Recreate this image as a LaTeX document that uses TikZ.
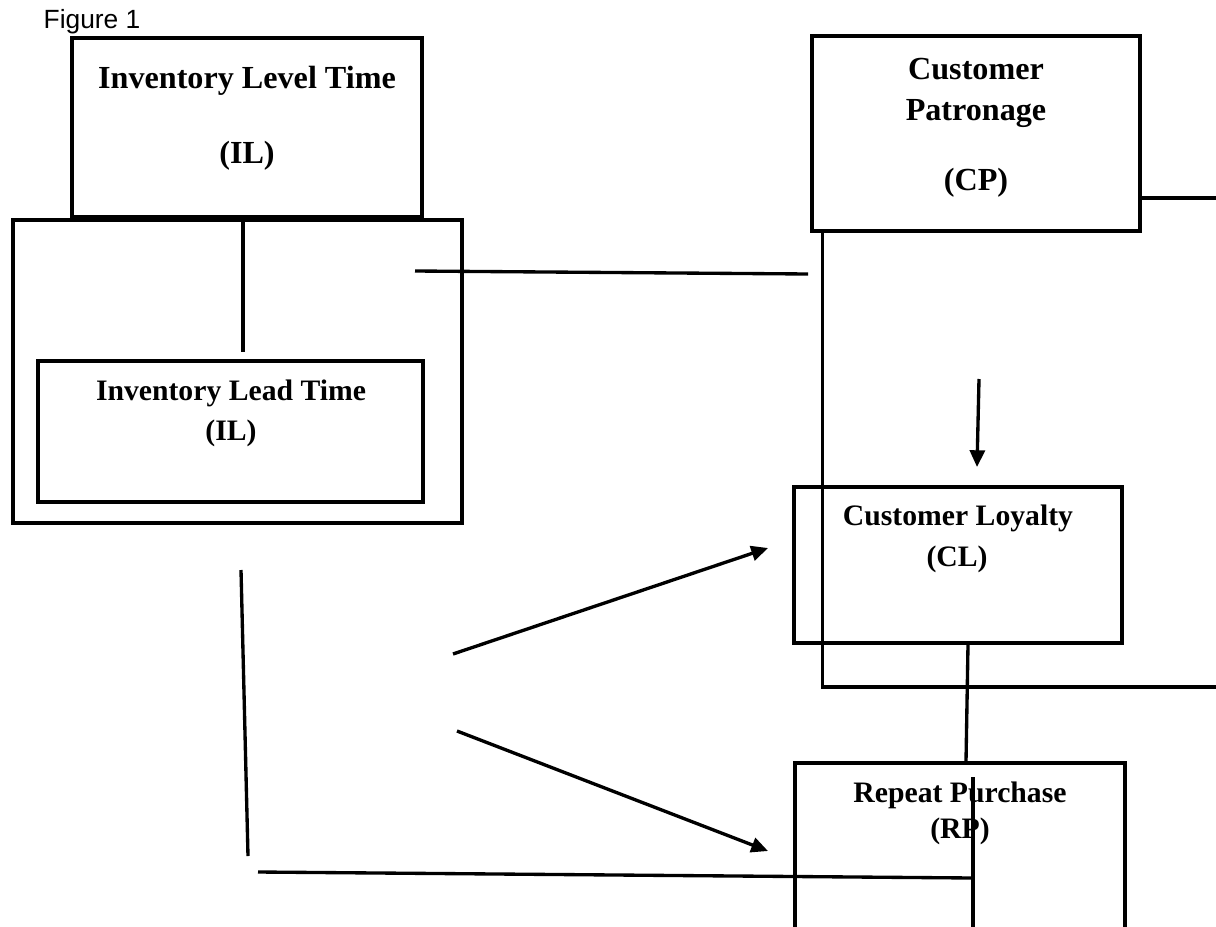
\documentclass[tikz,border=0pt]{standalone}
\usepackage{fontspec}
\setmainfont{Liberation Serif}
\newfontfamily\captionfont{Liberation Sans}
\usetikzlibrary{arrows.meta}
\usetikzlibrary{calc}

\begin{document}
\begin{tikzpicture}[x=0.02cm, y=-0.02cm,
    line width=1.9pt,
    box/.style={draw, shape=rectangle, inner sep=0pt},
    bigtxt/.style={font=\fontsize{18.3}{22}\selectfont\bfseries,
      anchor=base, inner sep=0pt},
    smalltxt/.style={font=\fontsize{16.9}{20}\selectfont\bfseries,
      anchor=base, inner sep=0pt},
    arr/.style={-{Triangle[length=9.5pt,width=8.5pt]}}]

    \clip (0,0) rectangle (1216,926);

    \node[name=figlabel,
      anchor=base west,
      inner sep=0pt,
      font=\captionfont\fontsize{15}{18}\selectfont] at (42,29) {Figure 1};

    % left group
    \node[name=levelbox, box,
      minimum width=7cm,
      minimum height=3.58cm] at (247,127.5) {};
    \node[name=leveltxt, bigtxt] at (247,89) {Inventory Level Time};
    \node[name=levelabbr, bigtxt] at (247,163) {(IL)};

    \node[name=groupbox, box,
      minimum width=8.98cm,
      minimum height=6.06cm] at (237.5,371.5) {};

    \node[name=leadbox, box,
      minimum width=7.7cm,
      minimum height=2.82cm] at (230.5,431.5) {};
    \node[name=leadtxt, smalltxt] at (231,400) {Inventory Lead Time};
    \node[name=leadabbr, smalltxt] at (231,440) {(IL)};

    % right group
    \node[name=patronbox, box,
      minimum width=6.56cm,
      minimum height=3.9cm] at (976,133.5) {};
    \node[name=patrontxt, bigtxt] at (976,80) {Customer};
    \node[name=patrontxtb, bigtxt] at (976,120) {Patronage};
    \node[name=patronabbr, bigtxt] at (976,190) {(CP)};

    \node[name=loyaltybox, box,
      minimum width=6.56cm,
      minimum height=3.12cm] at (958,565) {};
    \node[name=loyaltytxt, smalltxt] at (958,525) {Customer Loyalty};
    \node[name=loyaltyabbr, smalltxt] at (957,566) {(CL)};

    \node[name=repeatbox, box,
      minimum width=6.6cm,
      minimum height=3.64cm] at (960,854) {};
    \node[name=repeattxt, smalltxt] at (960,802) {Repeat Purchase};
    \node[name=repeatabbr, smalltxt] at (960,838) {(RP)};

    % loose ends
    \coordinate (levelfoot) at (243,352);
    \coordinate (groupout) at (415,271);
    \coordinate (patronin) at (808,274);
    \coordinate (patronright) at (1216,198);
    \coordinate (loopright) at (1216,687);
    \coordinate (patronarr) at (979,379);
    \coordinate (loyaltyarr) at (977,467);
    \coordinate (repeatmid) at (973,777);
    \coordinate (leadbottom) at (258,872);
    \coordinate (repeatjoin) at (973,878);
    \coordinate (groupdown) at (241,570);
    \coordinate (groupfoot) at (248,856);
    \coordinate (fanup) at (453,654);
    \coordinate (loyaltyin) at (768,548);
    \coordinate (fandown) at (457,731);
    \coordinate (repeatin) at (768,851);

    \path (levelfoot |- groupbox.north) edge (levelfoot);
    \path (groupout) edge (patronin);
    \path (patronright -| patronbox.east) edge (patronright);
    \draw ($(patronbox.south west)+(12,0)$) |- (loopright);
    \path (patronarr) edge[arr] (loyaltyarr);
    \path ($(loyaltybox.south)+(10,0)$) edge ($(repeatbox.north)+(6,0)$);
    \path (repeatmid) edge (repeatmid |- repeatbox.south);
    \path (leadbottom) edge (repeatjoin);
    \path (groupdown) edge (groupfoot);
    \path (fanup) edge[arr] (loyaltyin);
    \path (fandown) edge[arr] (repeatin);
  \end{tikzpicture}
\end{document}
